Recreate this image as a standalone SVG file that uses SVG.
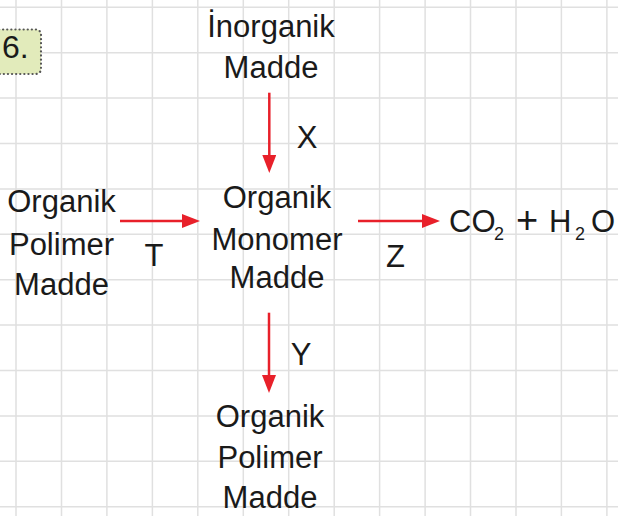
<svg xmlns="http://www.w3.org/2000/svg" width="618" height="516" viewBox="0 0 618 516">
  <style>
    .grid { stroke: #e0e0e0; stroke-width: 1.5; fill: none; }
    .lbl { font-family: "Liberation Sans", Arial, sans-serif; font-size: 31px; fill: #1a1a1a; text-anchor: middle; }
    .sub { font-size: 18px; }
    .conn { stroke: #e8202a; stroke-width: 2.5; fill: none; }
  </style>
  <defs>
    <marker id="ah" viewBox="0 -7 18 14" refX="0" refY="0" markerWidth="18" markerHeight="14" markerUnits="userSpaceOnUse" orient="auto">
      <path d="M0,-7 L18,0 L0,7 Z" fill="#e8202a"/>
    </marker>
  </defs>
  <rect width="618" height="516" fill="#ffffff"/>
  <g id="grid">
    <path class="grid" d="M16,0V516 M61.5,0V516 M106.9,0V516 M152.4,0V516 M197.8,0V516 M243.3,0V516 M288.7,0V516 M334.2,0V516 M379.6,0V516 M425.1,0V516 M470.5,0V516 M516,0V516 M561.4,0V516 M606.9,0V516 M0,7.3H618 M0,52.7H618 M0,98.1H618 M0,143.5H618 M0,188.9H618 M0,234.3H618 M0,279.7H618 M0,325.1H618 M0,370.5H618 M0,415.9H618 M0,461.3H618 M0,506.7H618"/>
  </g>
  <g id="badge">
    <rect x="-6" y="29.5" width="47" height="44.5" rx="5" fill="#e2ebbb" stroke="#555555" stroke-width="2.2" stroke-dasharray="0.1 4" stroke-linecap="round"/>
    <text x="2" y="58" font-family="'Liberation Sans', Arial, sans-serif" font-size="32" fill="#1a1a1a">6.</text>
  </g>
  <g id="connectors">
    <line class="conn" x1="269.3" y1="92.7" x2="269.3" y2="155" marker-end="url(#ah)"/>
    <line class="conn" x1="120" y1="221" x2="182" y2="221" marker-end="url(#ah)"/>
    <line class="conn" x1="358" y1="221" x2="422" y2="221" marker-end="url(#ah)"/>
    <line class="conn" x1="269" y1="312.7" x2="269" y2="375" marker-end="url(#ah)"/>
    <text class="lbl" x="307" y="148">X</text>
    <text class="lbl" x="154" y="266">T</text>
    <text class="lbl" x="395.5" y="267">Z</text>
    <text class="lbl" x="301" y="365">Y</text>
  </g>
  <g id="node-inorganik">
    <text class="lbl" x="271" y="37">İnorganik</text>
    <text class="lbl" x="271" y="78">Madde</text>
  </g>
  <g id="node-polimer-left">
    <text class="lbl" x="61.5" y="212">Organik</text>
    <text class="lbl" x="61.5" y="255">Polimer</text>
    <text class="lbl" x="61.5" y="295">Madde</text>
  </g>
  <g id="node-monomer">
    <text class="lbl" x="277" y="208">Organik</text>
    <text class="lbl" x="277" y="250">Monomer</text>
    <text class="lbl" x="277" y="288">Madde</text>
  </g>
  <g id="node-products">
    <text class="lbl" style="text-anchor:start" y="232"><tspan x="449">CO</tspan><tspan class="sub" x="494" y="240">2</tspan><tspan x="516" y="233" font-size="38">+</tspan><tspan x="549" y="232">H</tspan><tspan class="sub" x="575" y="240">2</tspan><tspan x="591" y="232">O</tspan></text>
  </g>
  <g id="node-polimer-bottom">
    <text class="lbl" x="270" y="427">Organik</text>
    <text class="lbl" x="270" y="468">Polimer</text>
    <text class="lbl" x="270" y="508">Madde</text>
  </g>
</svg>
